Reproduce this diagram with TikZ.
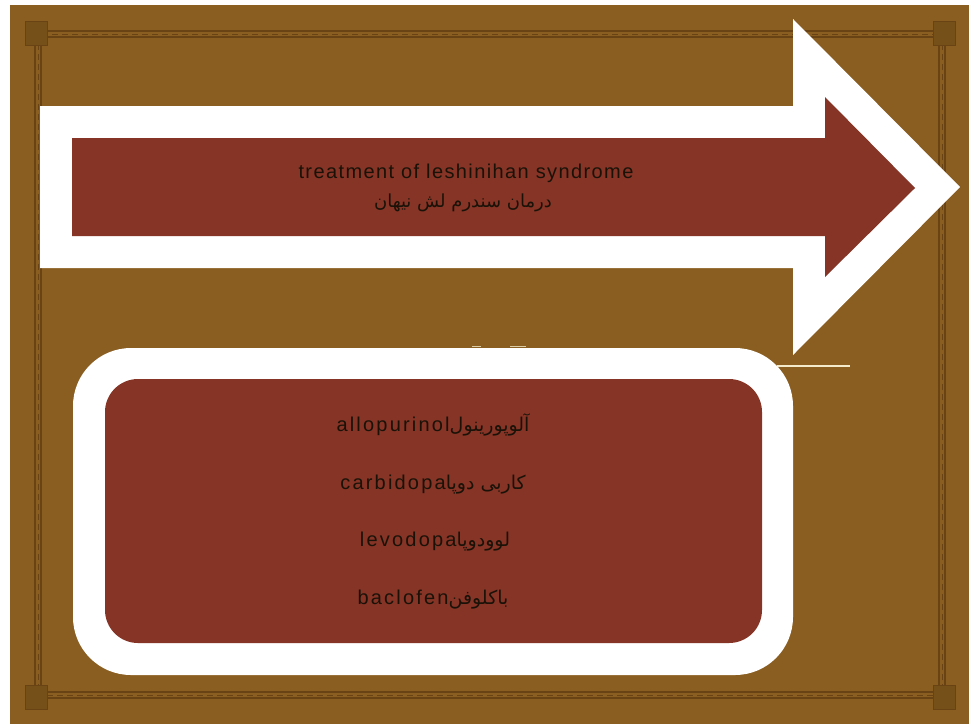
\documentclass[tikz,border=0pt]{standalone}
\usepackage{fontspec}
\TeXXeTstate=1
\newfontfamily\latA{Liberation Sans}[LetterSpace=7]
\newfontfamily\latB{Liberation Sans}[LetterSpace=11]
\newfontfamily\arab[Script=Arabic]{DejaVu Sans}
\definecolor{bgbrown}{HTML}{8A5D20}
\definecolor{framedark}{HTML}{6A4315}
\definecolor{cornerdark}{HTML}{765019}
\definecolor{boxred}{HTML}{853426}
\definecolor{txt}{HTML}{1A1208}
\definecolor{cream}{HTML}{F3EBCB}
\tikzset{
  frameline/.style={draw=framedark, line width=1.8pt},
  cornerbox/.style={fill=cornerdark, draw=framedark, line width=0.8pt},
  titletext/.style={text=txt, font=\latA\fontsize{20}{24}\selectfont, inner sep=0pt},
  arabtitle/.style={text=txt, font=\arab\fontsize{18}{22}\selectfont, inner sep=0pt},
  itemtext/.style={text=txt, font=\latB\fontsize{20}{24}\selectfont, inner sep=0pt},
}
\newcommand{\ar}[1]{{\arab\fontsize{19}{22}\selectfont\beginR #1\endR}}
\begin{document}
\begin{tikzpicture}[x=1pt,y=-1pt]
\useasboundingbox (0,0) rectangle (969,724);
\fill[white] (0,0) rectangle (969,724);
\fill[bgbrown] (10,5) rectangle (969,724);
% decorative frame
\draw[frameline] (35,31) rectangle (945,698);
\draw[frameline] (41,37) rectangle (939,692);
\draw[framedark, line width=0.6pt, dash pattern=on 6pt off 4pt] (38,34) rectangle (942,695);
\foreach \cx/\cy in {36/33, 944/33, 36/697, 944/697}{
  \filldraw[cornerbox] (\cx-11,\cy-12) rectangle (\cx+11,\cy+12);
}
% big arrow
\fill[white] (40,106) -- (793,106) -- (793,19) -- (960,187) -- (793,355) -- (793,268) -- (40,268) -- cycle;
\fill[boxred] (72,138) -- (825,138) -- (825,97) -- (915,188) -- (825,277) -- (825,236) -- (72,236) -- cycle;
\node[titletext] (title) at (466,173) {treatment of leshinihan syndrome};
\node[arabtitle] (titlefa) at (463,203) {\beginR درمان سندرم لش نیهان\endR};
% small marks
\draw[cream, line width=1.3pt] (777,366) -- (850,366);
\fill[cream, opacity=0.8] (472,345.5) rectangle (481,347);
\fill[cream, opacity=0.8] (510,345.5) rectangle (526,347);
% rounded box
\fill[white, rounded corners=58pt] (73,348) rectangle (793,675);
\fill[boxred, rounded corners=33pt] (105,379) rectangle (762,643);
\node[itemtext] (i1) at (433,425) {allopurinol\ar{آلوپورینول}};
\node[itemtext] (i2) at (433,485) {carbidopa\ar{کاربی دوپا}};
\node[itemtext] (i3) at (435,542) {levodopa\ar{لوودوپا}};
\node[itemtext] (i4) at (433,600) {baclofen\ar{باکلوفن}};
\end{tikzpicture}
\end{document}
